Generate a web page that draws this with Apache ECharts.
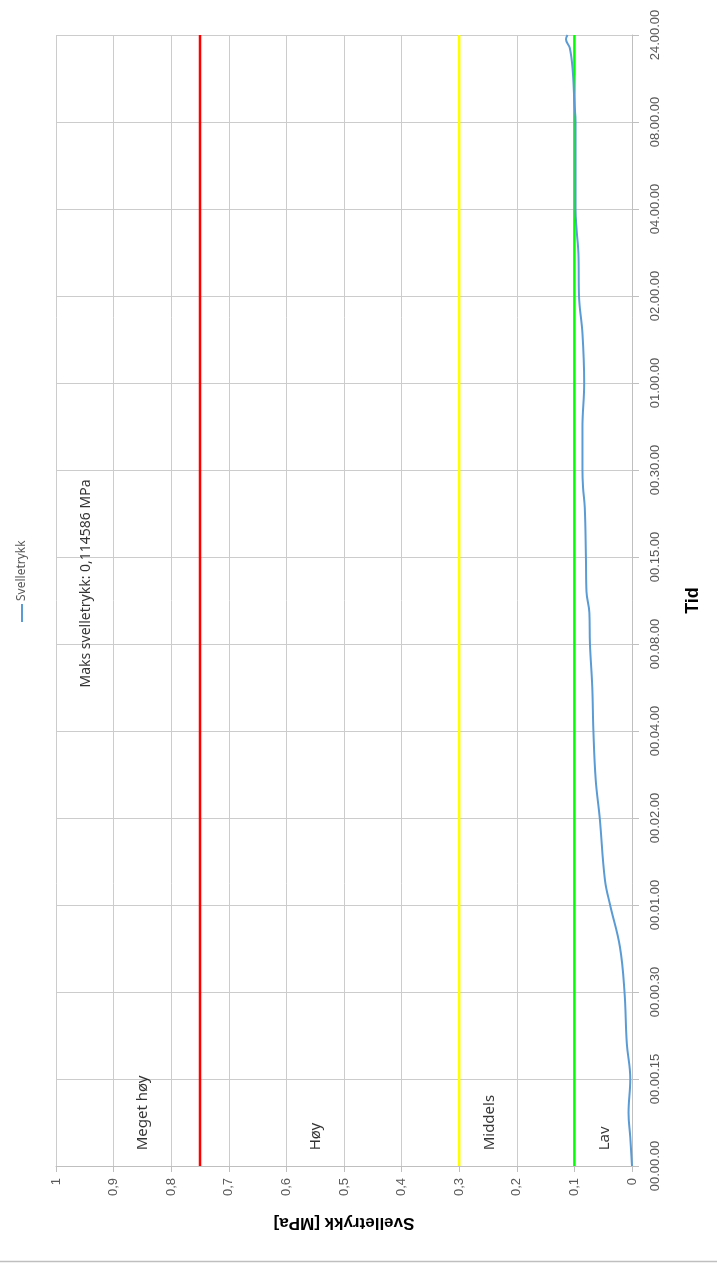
<!DOCTYPE html>
<html><head><meta charset="utf-8">
<script src="https://cdn.jsdelivr.net/npm/echarts@6/dist/echarts.min.js"></script>
<style>html,body{margin:0;padding:0;background:#fff}#c{width:717px;height:1265px}</style>
</head><body><div id="c"></div>
<script>
// ---- data ----
const timeLabels = ['00.00.00','00.00.15','00.00.30','00.01.00','00.02.00','00.04.00','00.08.00',
  '00.15.00','00.30.00','01.00.00','02.00.00','04.00.00','08.00.00','24.00.00'];
const seriesName = 'Svelletrykk';
// position along the time axis (index of tick label, fractional between ticks)
const timePos = [0,0.33,0.61,1,1.41,2,2.52,3,3.29,4,4.44,5,5.51,6,6.36,6.6,7,7.57,7.8,8,8.49,9,9.57,10,10.49,10.75,11,12,12.22,12.6,12.85,12.95,13];
// swelling pressure [MPa]
const pressure = [0,0.003,0.006,0.003,0.009,0.013,0.021,0.038,0.047,0.056,0.063,0.067,0.069,0.073,0.074,0.079,0.080,0.082,0.085,0.086,0.086,0.083,0.086,0.092,0.093,0.096,0.098,0.098,0.100,0.103,0.108,0.1146,0.112];
const thresholds = [0.75, 0.3, 0.1];
const zoneNames = ['Meget høy','Høy','Middels','Lav'];
const zoneValues = [0.849, 0.549, 0.247, 0.047];
const zoneTimePos = 0.18;
const maxText = 'Maks svelletrykk: 0,114586 MPa';
const maxTextValue = 0.948;
const maxTextTimePos = 5.5;
const valueMin = 0, valueMax = 1, valueStep = 0.1;

// ---- chart ----
const chart = echarts.init(document.getElementById('c'), null, {renderer:'canvas'});
const lineData = timePos.map((t,i)=>[pressure[i], t]);
const thrColors = ['#ff0000','#ffff00','#00ff00'];
const thrSeries = thresholds.map((v,i)=>({
  type:'line', name:'thr'+i, data:[[v,0],[v,timeLabels.length-1]],
  showSymbol:false, symbol:'none', silent:true,
  lineStyle:{color:thrColors[i], width:2.5}, z:3
}));
const labelFont = 'Noto Sans';
const option = {
  animation:false,
  backgroundColor:'#ffffff',
  grid:{left:56, right:85, top:35, bottom:99, containLabel:false},
  xAxis:{
    type:'value', min:valueMin, max:valueMax, interval:valueStep, inverse:true, position:'bottom',
    name:'Svelletrykk [MPa]', nameLocation:'middle', nameGap:48, nameRotate:180,
    nameTextStyle:{fontFamily:'Liberation Sans', fontWeight:'bold', fontSize:17, color:'#000'},
    axisLine:{show:true, onZero:false, lineStyle:{color:'#bfbfbf', width:1}},
    axisTick:{show:true, length:6, lineStyle:{color:'#bfbfbf'}},
    axisLabel:{rotate:90, margin:12, fontSize:13, fontFamily:'Liberation Sans', color:'#595959',
      formatter:v=>String(Math.round(v*10)/10).replace('.',',')},
    splitLine:{show:true, lineStyle:{color:'#cccccc', width:1}}
  },
  yAxis:{
    type:'value', min:0, max:timeLabels.length-1, interval:1, position:'right',
    name:'Tid', nameLocation:'middle', nameGap:52, nameRotate:90,
    nameTextStyle:{fontFamily:'Liberation Sans', fontWeight:'bold', fontSize:18, color:'#000'},
    axisLine:{show:true, onZero:false, lineStyle:{color:'#bfbfbf', width:1}},
    axisTick:{show:true, length:7, lineStyle:{color:'#bfbfbf'}},
    axisLabel:{rotate:90, margin:17, fontSize:13, fontFamily:'Liberation Sans', color:'#595959',
      formatter:v=>timeLabels[Math.round(v)] || ''},
    splitLine:{show:true, lineStyle:{color:'#cccccc', width:1}}
  },
  series:[
    ...thrSeries,
    {type:'line', name:seriesName, data:lineData, smooth:0.4, showSymbol:false, symbol:'none',
      lineStyle:{color:'#5b9bd5', width:2}, z:5},
    {type:'scatter', name:'zones', symbolSize:0, silent:true, z:6,
      data:zoneNames.map((n,i)=>({value:[zoneValues[i], zoneTimePos], name:n})),
      label:{show:true, position:[0,0], rotate:90, align:'left', verticalAlign:'middle',
        formatter:p=>p.name, fontFamily:labelFont, fontSize:15, color:'#000'}},
    {type:'scatter', name:'maks', symbolSize:0, silent:true, z:6,
      data:[{value:[maxTextValue, maxTextTimePos], name:maxText}],
      label:{show:true, position:[0,0], rotate:90, align:'left', verticalAlign:'middle',
        formatter:p=>p.name, fontFamily:labelFont, fontSize:14, color:'#000'}}
  ],
  graphic:[
    {type:'group', x:22, y:622, rotation:Math.PI/2, children:[
      {type:'line', shape:{x1:0,y1:0,x2:18,y2:0}, style:{stroke:'#5b9bd5', lineWidth:2}},
      {type:'text', x:21, y:0, style:{text:seriesName, fontFamily:labelFont, fontSize:12, fill:'#595959', verticalAlign:'middle'}}
    ]},
    {type:'line', shape:{x1:0,y1:1261.5,x2:717,y2:1261.5}, style:{stroke:'#bfbfbf', lineWidth:1.5}}
  ]
};
chart.setOption(option);
</script>
</body></html>
